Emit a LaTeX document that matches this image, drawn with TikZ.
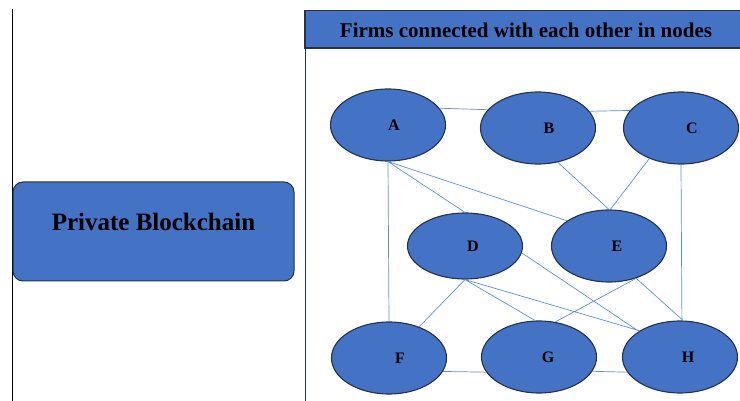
\documentclass[tikz,border=0pt]{standalone}
\usepackage{fontspec}
\setmainfont{Liberation Serif}
\usetikzlibrary{shapes.geometric}
\definecolor{boxblue}{HTML}{4472C4}
\definecolor{edgenavy}{HTML}{23324F}
\definecolor{linkblue}{HTML}{5E8EDB}
\newcommand{\firmlabel}[2]{\hspace*{#1}\raisebox{-2pt}{#2}}
\tikzset{
  firm/.style={ellipse, draw=edgenavy, line width=1.1pt, fill=boxblue,
    minimum width=115pt, minimum height=72pt, inner sep=0pt,
    font=\fontsize{16}{16}\selectfont\bfseries},
  link/.style={draw=linkblue, line width=0.7pt},
  titlebox/.style={fill=boxblue, draw=edgenavy, line width=1pt,
    rounded corners=10pt, inner sep=0pt},
}
\begin{document}
\begin{tikzpicture}[x=1pt,y=-1pt]
\useasboundingbox (0,0) rectangle (740,401);
\clip (0,0) rectangle (740,401);

% left rule
\draw[black, line width=1pt] (12.5,9) -- (12.5,401);

% left label box
\node[titlebox, minimum width=281pt, minimum height=99pt,
      font=\fontsize{25}{25}\selectfont\bfseries] (pb) at (153.5,231.5)
  {\raisebox{20pt}{Private Blockchain}};

% right panel: header band and left border
\fill[boxblue] (305,10.5) rectangle (745,48);
\draw[edgenavy, line width=1.2pt] (745,10.5) -- (305,10.5) -- (305,48) -- (745,48);
\draw[edgenavy, line width=1pt] (305,48) -- (305,401);
\node[font=\fontsize{21}{21}\selectfont\bfseries] (hdr) at (526,30.5)
  {Firms connected with each other in nodes};

% firms
\node[firm] (A) at (388,125) {\firmlabel{12pt}{A}};
\node[firm] (B) at (538,128) {\firmlabel{22pt}{B}};
\node[firm] (C) at (681,128) {\firmlabel{22pt}{C}};
\node[firm, minimum height=66pt] (D) at (465,246) {\firmlabel{16pt}{D}};
\node[firm] (E) at (609,246) {\firmlabel{16pt}{E}};
\node[firm] (F) at (389,358) {\firmlabel{22pt}{F}};
\node[firm] (G) at (539,357) {\firmlabel{18pt}{G}};
\node[firm] (H) at (680,357) {\firmlabel{16pt}{H}};

% links between firms
\path[link]
  (A.18) -- (B.160)
  (B.18) -- (C.161)
  (A.south) -- (F.north)
  (A.south) -- (D.north)
  (A.south) -- (E.149)
  (B.-60) -- (E.north)
  (C.-136) -- (E.88)
  (C.south) -- (H.87)
  (D.south) -- (F.46)
  (D.south) -- (G.96)
  (D.south) -- (H.147)
  (D.-7) -- (H.148)
  (E.-50) -- (G.65)
  (E.-50) -- (H.85)
  (F.-14) -- (G.-164)
  (G.-15) -- (H.-164);
\end{tikzpicture}
\end{document}
